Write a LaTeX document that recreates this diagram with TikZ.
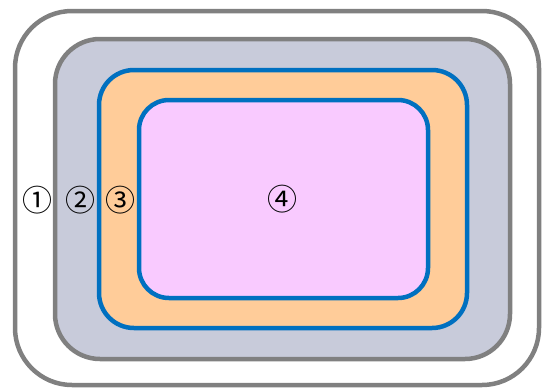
\documentclass[tikz,border=0pt]{standalone}
\usepackage{fontspec}
\newfontfamily\circfont{Noto Sans CJK JP}
\definecolor{framegray}{HTML}{808080}
\definecolor{slatefill}{HTML}{C8CBDA}
\definecolor{peach}{HTML}{FFCC99}
\definecolor{ringblue}{HTML}{0070C0}
\definecolor{lilac}{HTML}{F9CAFF}
\tikzset{
  layer/.style={line width=4.5pt},
  tag/.style={font=\circfont\fontsize{30}{32}\selectfont, inner sep=0pt}
}
\begin{document}
\begin{tikzpicture}[x=1pt,y=-1pt]
  \useasboundingbox (0,0) rectangle (543,389);
  % nested rounded regions, outermost first
  \draw[layer, draw=framegray, fill=white, rounded corners=57pt] (15,11) rectangle (539,385);
  \draw[layer, draw=framegray, fill=slatefill, rounded corners=45pt] (55,39) rectangle (510,359);
  \draw[layer, draw=ringblue, fill=peach, rounded corners=35pt] (99,70) rectangle (467,328);
  \draw[layer, draw=ringblue, fill=lilac, rounded corners=30pt] (139,100) rectangle (428,298);
  % region labels
  \node[tag] (l1) at (38,200) {①};
  \node[tag] (l2) at (80,200) {②};
  \node[tag] (l3) at (120,200) {③};
  \node[tag] (l4) at (282,199) {④};
\end{tikzpicture}
\end{document}
